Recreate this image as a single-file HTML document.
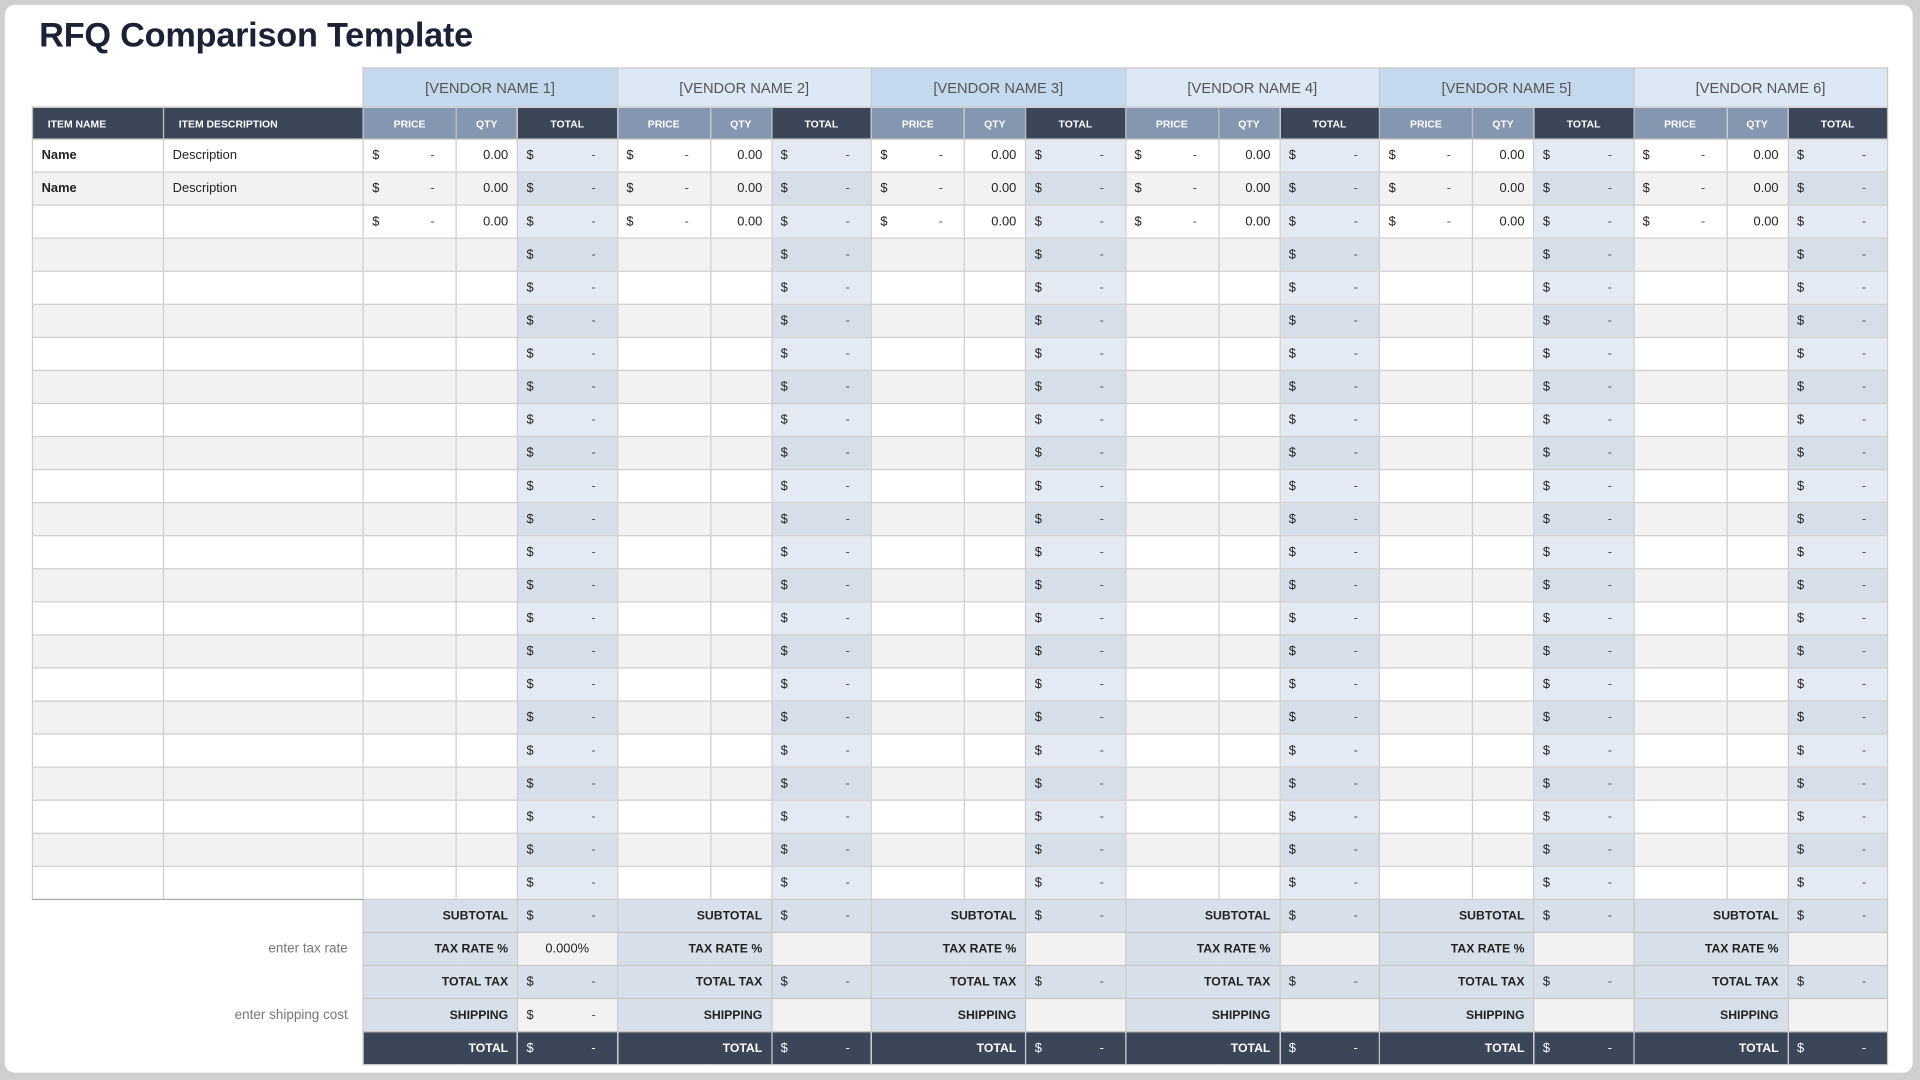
<!DOCTYPE html>
<html><head><meta charset="utf-8"><style>
html,body{margin:0;padding:0;width:1920px;height:1080px;overflow:hidden;background:#cfcfcf}
#w{position:absolute;left:0;top:0;width:1568px;height:882px;transform:scale(1.22449);transform-origin:0 0;background:#cfcfcf}
#card{position:absolute;left:4px;top:4px;width:1558px;height:872px;background:#fff;border-radius:8px}
h1{position:absolute;left:32px;top:13px;margin:0;font:bold 28px "Liberation Sans",sans-serif;color:#1c2236;letter-spacing:-0.2px}
table{position:absolute;left:26px;top:55px;border-collapse:collapse;table-layout:fixed;width:1515px;font-family:"Liberation Sans",sans-serif}
td{border:1px solid #cdcdcd;height:26px;padding:0 7px;font-size:10.5px;color:#222;white-space:nowrap;overflow:hidden}
td s{float:right;text-decoration:none;margin-right:10px;color:#555}
tr.e td{background:#f2f2f2}
td.t{background:#e4eaf3}
tr.e td.t{background:#d6dee9}
td.q{text-align:right}
td.n{font-weight:bold}
tr.v td{height:31px;text-align:center;font-size:12px;color:#555;border-color:#c6c6c6}
tr.v td.b{border:none;background:#fff}
.v1{background:#c5d9ee}.v2{background:#dde8f6}
tr.h td{height:25px;background:#3b4658;color:#fff;font-weight:bold;font-size:8.5px;text-align:center;border-color:#bbb}
tr.h td.l{text-align:left;padding-left:12px}
tr.h td.g{background:#8597b0}
tr.s td{background:#fff;border:none}
tr.s td.lb{background:#d6dfea;text-align:right;font-weight:bold;font-size:10px;border:1px solid #c6c6c6}
tr.s td.vl{background:#d6dfea;border:1px solid #c6c6c6}
tr.s td.lt{background:#f2f2f2;border:1px solid #c6c6c6;text-align:center}
tr.s td.note{text-align:right;color:#777;font-size:11px;padding-right:12px}
tr.k td.lb,tr.k td.vl{background:#3b4658;color:#fff}
tr.k td.vl s{color:#fff}
</style></head><body><div id="w"><div id="card"></div>
<h1>RFQ Comparison Template</h1>
<table>
<colgroup><col style="width:107px"><col style="width:163px"><col style="width:76px"><col style="width:50px"><col style="width:81.5px"><col style="width:76px"><col style="width:50px"><col style="width:81.5px"><col style="width:76px"><col style="width:50px"><col style="width:81.5px"><col style="width:76px"><col style="width:50px"><col style="width:81.5px"><col style="width:76px"><col style="width:50px"><col style="width:81.5px"><col style="width:76px"><col style="width:50px"><col style="width:81.5px"></colgroup>
<tr class="v"><td class="b"></td><td class="b"></td><td colspan="3" class="v1">[VENDOR NAME 1]</td><td colspan="3" class="v2">[VENDOR NAME 2]</td><td colspan="3" class="v1">[VENDOR NAME 3]</td><td colspan="3" class="v2">[VENDOR NAME 4]</td><td colspan="3" class="v1">[VENDOR NAME 5]</td><td colspan="3" class="v2">[VENDOR NAME 6]</td></tr>
<tr class="h"><td class="l">ITEM NAME</td><td class="l">ITEM DESCRIPTION</td><td class="g">PRICE</td><td class="g">QTY</td><td>TOTAL</td><td class="g">PRICE</td><td class="g">QTY</td><td>TOTAL</td><td class="g">PRICE</td><td class="g">QTY</td><td>TOTAL</td><td class="g">PRICE</td><td class="g">QTY</td><td>TOTAL</td><td class="g">PRICE</td><td class="g">QTY</td><td>TOTAL</td><td class="g">PRICE</td><td class="g">QTY</td><td>TOTAL</td></tr>
<tr><td class="n">Name</td><td>Description</td><td>$<s>-</s></td><td class="q">0.00</td><td class="t">$<s>-</s></td><td>$<s>-</s></td><td class="q">0.00</td><td class="t">$<s>-</s></td><td>$<s>-</s></td><td class="q">0.00</td><td class="t">$<s>-</s></td><td>$<s>-</s></td><td class="q">0.00</td><td class="t">$<s>-</s></td><td>$<s>-</s></td><td class="q">0.00</td><td class="t">$<s>-</s></td><td>$<s>-</s></td><td class="q">0.00</td><td class="t">$<s>-</s></td></tr>
<tr class="e"><td class="n">Name</td><td>Description</td><td>$<s>-</s></td><td class="q">0.00</td><td class="t">$<s>-</s></td><td>$<s>-</s></td><td class="q">0.00</td><td class="t">$<s>-</s></td><td>$<s>-</s></td><td class="q">0.00</td><td class="t">$<s>-</s></td><td>$<s>-</s></td><td class="q">0.00</td><td class="t">$<s>-</s></td><td>$<s>-</s></td><td class="q">0.00</td><td class="t">$<s>-</s></td><td>$<s>-</s></td><td class="q">0.00</td><td class="t">$<s>-</s></td></tr>
<tr><td></td><td></td><td>$<s>-</s></td><td class="q">0.00</td><td class="t">$<s>-</s></td><td>$<s>-</s></td><td class="q">0.00</td><td class="t">$<s>-</s></td><td>$<s>-</s></td><td class="q">0.00</td><td class="t">$<s>-</s></td><td>$<s>-</s></td><td class="q">0.00</td><td class="t">$<s>-</s></td><td>$<s>-</s></td><td class="q">0.00</td><td class="t">$<s>-</s></td><td>$<s>-</s></td><td class="q">0.00</td><td class="t">$<s>-</s></td></tr>
<tr class="e"><td></td><td></td><td></td><td></td><td class="t">$<s>-</s></td><td></td><td></td><td class="t">$<s>-</s></td><td></td><td></td><td class="t">$<s>-</s></td><td></td><td></td><td class="t">$<s>-</s></td><td></td><td></td><td class="t">$<s>-</s></td><td></td><td></td><td class="t">$<s>-</s></td></tr>
<tr><td></td><td></td><td></td><td></td><td class="t">$<s>-</s></td><td></td><td></td><td class="t">$<s>-</s></td><td></td><td></td><td class="t">$<s>-</s></td><td></td><td></td><td class="t">$<s>-</s></td><td></td><td></td><td class="t">$<s>-</s></td><td></td><td></td><td class="t">$<s>-</s></td></tr>
<tr class="e"><td></td><td></td><td></td><td></td><td class="t">$<s>-</s></td><td></td><td></td><td class="t">$<s>-</s></td><td></td><td></td><td class="t">$<s>-</s></td><td></td><td></td><td class="t">$<s>-</s></td><td></td><td></td><td class="t">$<s>-</s></td><td></td><td></td><td class="t">$<s>-</s></td></tr>
<tr><td></td><td></td><td></td><td></td><td class="t">$<s>-</s></td><td></td><td></td><td class="t">$<s>-</s></td><td></td><td></td><td class="t">$<s>-</s></td><td></td><td></td><td class="t">$<s>-</s></td><td></td><td></td><td class="t">$<s>-</s></td><td></td><td></td><td class="t">$<s>-</s></td></tr>
<tr class="e"><td></td><td></td><td></td><td></td><td class="t">$<s>-</s></td><td></td><td></td><td class="t">$<s>-</s></td><td></td><td></td><td class="t">$<s>-</s></td><td></td><td></td><td class="t">$<s>-</s></td><td></td><td></td><td class="t">$<s>-</s></td><td></td><td></td><td class="t">$<s>-</s></td></tr>
<tr><td></td><td></td><td></td><td></td><td class="t">$<s>-</s></td><td></td><td></td><td class="t">$<s>-</s></td><td></td><td></td><td class="t">$<s>-</s></td><td></td><td></td><td class="t">$<s>-</s></td><td></td><td></td><td class="t">$<s>-</s></td><td></td><td></td><td class="t">$<s>-</s></td></tr>
<tr class="e"><td></td><td></td><td></td><td></td><td class="t">$<s>-</s></td><td></td><td></td><td class="t">$<s>-</s></td><td></td><td></td><td class="t">$<s>-</s></td><td></td><td></td><td class="t">$<s>-</s></td><td></td><td></td><td class="t">$<s>-</s></td><td></td><td></td><td class="t">$<s>-</s></td></tr>
<tr><td></td><td></td><td></td><td></td><td class="t">$<s>-</s></td><td></td><td></td><td class="t">$<s>-</s></td><td></td><td></td><td class="t">$<s>-</s></td><td></td><td></td><td class="t">$<s>-</s></td><td></td><td></td><td class="t">$<s>-</s></td><td></td><td></td><td class="t">$<s>-</s></td></tr>
<tr class="e"><td></td><td></td><td></td><td></td><td class="t">$<s>-</s></td><td></td><td></td><td class="t">$<s>-</s></td><td></td><td></td><td class="t">$<s>-</s></td><td></td><td></td><td class="t">$<s>-</s></td><td></td><td></td><td class="t">$<s>-</s></td><td></td><td></td><td class="t">$<s>-</s></td></tr>
<tr><td></td><td></td><td></td><td></td><td class="t">$<s>-</s></td><td></td><td></td><td class="t">$<s>-</s></td><td></td><td></td><td class="t">$<s>-</s></td><td></td><td></td><td class="t">$<s>-</s></td><td></td><td></td><td class="t">$<s>-</s></td><td></td><td></td><td class="t">$<s>-</s></td></tr>
<tr class="e"><td></td><td></td><td></td><td></td><td class="t">$<s>-</s></td><td></td><td></td><td class="t">$<s>-</s></td><td></td><td></td><td class="t">$<s>-</s></td><td></td><td></td><td class="t">$<s>-</s></td><td></td><td></td><td class="t">$<s>-</s></td><td></td><td></td><td class="t">$<s>-</s></td></tr>
<tr><td></td><td></td><td></td><td></td><td class="t">$<s>-</s></td><td></td><td></td><td class="t">$<s>-</s></td><td></td><td></td><td class="t">$<s>-</s></td><td></td><td></td><td class="t">$<s>-</s></td><td></td><td></td><td class="t">$<s>-</s></td><td></td><td></td><td class="t">$<s>-</s></td></tr>
<tr class="e"><td></td><td></td><td></td><td></td><td class="t">$<s>-</s></td><td></td><td></td><td class="t">$<s>-</s></td><td></td><td></td><td class="t">$<s>-</s></td><td></td><td></td><td class="t">$<s>-</s></td><td></td><td></td><td class="t">$<s>-</s></td><td></td><td></td><td class="t">$<s>-</s></td></tr>
<tr><td></td><td></td><td></td><td></td><td class="t">$<s>-</s></td><td></td><td></td><td class="t">$<s>-</s></td><td></td><td></td><td class="t">$<s>-</s></td><td></td><td></td><td class="t">$<s>-</s></td><td></td><td></td><td class="t">$<s>-</s></td><td></td><td></td><td class="t">$<s>-</s></td></tr>
<tr class="e"><td></td><td></td><td></td><td></td><td class="t">$<s>-</s></td><td></td><td></td><td class="t">$<s>-</s></td><td></td><td></td><td class="t">$<s>-</s></td><td></td><td></td><td class="t">$<s>-</s></td><td></td><td></td><td class="t">$<s>-</s></td><td></td><td></td><td class="t">$<s>-</s></td></tr>
<tr><td></td><td></td><td></td><td></td><td class="t">$<s>-</s></td><td></td><td></td><td class="t">$<s>-</s></td><td></td><td></td><td class="t">$<s>-</s></td><td></td><td></td><td class="t">$<s>-</s></td><td></td><td></td><td class="t">$<s>-</s></td><td></td><td></td><td class="t">$<s>-</s></td></tr>
<tr class="e"><td></td><td></td><td></td><td></td><td class="t">$<s>-</s></td><td></td><td></td><td class="t">$<s>-</s></td><td></td><td></td><td class="t">$<s>-</s></td><td></td><td></td><td class="t">$<s>-</s></td><td></td><td></td><td class="t">$<s>-</s></td><td></td><td></td><td class="t">$<s>-</s></td></tr>
<tr><td></td><td></td><td></td><td></td><td class="t">$<s>-</s></td><td></td><td></td><td class="t">$<s>-</s></td><td></td><td></td><td class="t">$<s>-</s></td><td></td><td></td><td class="t">$<s>-</s></td><td></td><td></td><td class="t">$<s>-</s></td><td></td><td></td><td class="t">$<s>-</s></td></tr>
<tr class="e"><td></td><td></td><td></td><td></td><td class="t">$<s>-</s></td><td></td><td></td><td class="t">$<s>-</s></td><td></td><td></td><td class="t">$<s>-</s></td><td></td><td></td><td class="t">$<s>-</s></td><td></td><td></td><td class="t">$<s>-</s></td><td></td><td></td><td class="t">$<s>-</s></td></tr>
<tr><td style="border-bottom:1px solid #aaa"></td><td style="border-bottom:1px solid #aaa"></td><td></td><td></td><td class="t">$<s>-</s></td><td></td><td></td><td class="t">$<s>-</s></td><td></td><td></td><td class="t">$<s>-</s></td><td></td><td></td><td class="t">$<s>-</s></td><td></td><td></td><td class="t">$<s>-</s></td><td></td><td></td><td class="t">$<s>-</s></td></tr>
<tr class="s"><td colspan="2"></td><td colspan="2" class="lb">SUBTOTAL</td><td class="vl">$<s>-</s></td><td colspan="2" class="lb">SUBTOTAL</td><td class="vl">$<s>-</s></td><td colspan="2" class="lb">SUBTOTAL</td><td class="vl">$<s>-</s></td><td colspan="2" class="lb">SUBTOTAL</td><td class="vl">$<s>-</s></td><td colspan="2" class="lb">SUBTOTAL</td><td class="vl">$<s>-</s></td><td colspan="2" class="lb">SUBTOTAL</td><td class="vl">$<s>-</s></td></tr>
<tr class="s"><td colspan="2" class="note">enter tax rate</td><td colspan="2" class="lb">TAX RATE %</td><td class="lt">0.000%</td><td colspan="2" class="lb">TAX RATE %</td><td class="lt"></td><td colspan="2" class="lb">TAX RATE %</td><td class="lt"></td><td colspan="2" class="lb">TAX RATE %</td><td class="lt"></td><td colspan="2" class="lb">TAX RATE %</td><td class="lt"></td><td colspan="2" class="lb">TAX RATE %</td><td class="lt"></td></tr>
<tr class="s"><td colspan="2"></td><td colspan="2" class="lb">TOTAL TAX</td><td class="vl">$<s>-</s></td><td colspan="2" class="lb">TOTAL TAX</td><td class="vl">$<s>-</s></td><td colspan="2" class="lb">TOTAL TAX</td><td class="vl">$<s>-</s></td><td colspan="2" class="lb">TOTAL TAX</td><td class="vl">$<s>-</s></td><td colspan="2" class="lb">TOTAL TAX</td><td class="vl">$<s>-</s></td><td colspan="2" class="lb">TOTAL TAX</td><td class="vl">$<s>-</s></td></tr>
<tr class="s"><td colspan="2" class="note">enter shipping cost</td><td colspan="2" class="lb">SHIPPING</td><td class="lt" style="text-align:left">$<s>-</s></td><td colspan="2" class="lb">SHIPPING</td><td class="lt"></td><td colspan="2" class="lb">SHIPPING</td><td class="lt"></td><td colspan="2" class="lb">SHIPPING</td><td class="lt"></td><td colspan="2" class="lb">SHIPPING</td><td class="lt"></td><td colspan="2" class="lb">SHIPPING</td><td class="lt"></td></tr>
<tr class="s k"><td colspan="2"></td><td colspan="2" class="lb">TOTAL</td><td class="vl">$<s>-</s></td><td colspan="2" class="lb">TOTAL</td><td class="vl">$<s>-</s></td><td colspan="2" class="lb">TOTAL</td><td class="vl">$<s>-</s></td><td colspan="2" class="lb">TOTAL</td><td class="vl">$<s>-</s></td><td colspan="2" class="lb">TOTAL</td><td class="vl">$<s>-</s></td><td colspan="2" class="lb">TOTAL</td><td class="vl">$<s>-</s></td></tr>
</table>
</div></body></html>
